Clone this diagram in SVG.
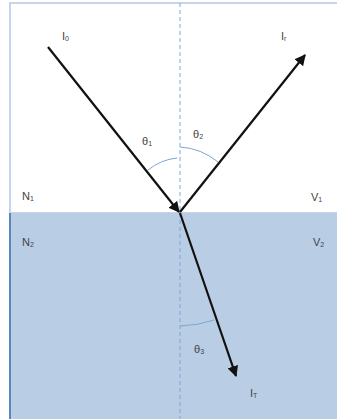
<svg xmlns="http://www.w3.org/2000/svg" width="337" height="419" viewBox="0 0 337 419">
<style>
.lbl{font-family:"Liberation Sans",Arial,sans-serif;font-size:11px;fill:#444}
.sub{font-size:7px}
.ray{stroke:#111;stroke-width:2.2;fill:none}
.arc{stroke:#7fa6d4;stroke-width:1;fill:none}
</style>
<defs>
<marker id="ah" viewBox="0 0 10 10" refX="9" refY="5" markerWidth="5" markerHeight="5" orient="auto" markerUnits="strokeWidth">
<path d="M0,0 L10,5 L0,10 z" fill="#111"/>
</marker>
</defs>
<rect x="0" y="0" width="337" height="419" fill="#fff"/>
<g id="medium1">
<rect x="10" y="3" width="328" height="210" fill="#fff" stroke="#c6d6ea" stroke-width="2"/>
</g>
<g id="medium2">
<rect x="10" y="213" width="328" height="206" fill="#b9cde4"/>
<line x1="10" y1="213" x2="10" y2="419" stroke="#5a86c0" stroke-width="2"/>
</g>
<g id="normal">
<line x1="180" y1="3" x2="180" y2="419" stroke="#7fa6d8" stroke-width="1" stroke-dasharray="4,3"/>
</g>
<g id="connectors">
<line class="ray" x1="48" y1="47" x2="179" y2="212" marker-end="url(#ah)"/>
<line class="ray" x1="180" y1="212" x2="305" y2="55" marker-end="url(#ah)"/>
<line class="ray" x1="180" y1="213" x2="236" y2="376" marker-end="url(#ah)"/>
</g>
<g id="angles">
<path class="arc" d="M148,170 A55,55 0 0 1 177,158"/>
<path class="arc" d="M180,147 A66,66 0 0 1 218,162"/>
<path class="arc" d="M180,326 A113,113 0 0 0 214,320"/>
</g>
<g id="labels">
<text class="lbl" x="62" y="40">I<tspan class="sub" dy="1">0</tspan></text>
<text class="lbl" x="281" y="40">I<tspan class="sub" dy="1">r</tspan></text>
<text class="lbl" x="22" y="200">N<tspan class="sub" dy="1">1</tspan></text>
<text class="lbl" x="311" y="201">V<tspan class="sub" dy="1">1</tspan></text>
<text class="lbl" x="22" y="246">N<tspan class="sub" dy="1">2</tspan></text>
<text class="lbl" x="313" y="246">V<tspan class="sub" dy="1">2</tspan></text>
<text class="lbl" x="142" y="145">θ<tspan class="sub" dy="1">1</tspan></text>
<text class="lbl" x="193" y="138">θ<tspan class="sub" dy="1">2</tspan></text>
<text class="lbl" x="194" y="353">θ<tspan class="sub" dy="1">3</tspan></text>
<text class="lbl" x="250" y="397">I<tspan class="sub" dy="1">T</tspan></text>
</g>
</svg>
